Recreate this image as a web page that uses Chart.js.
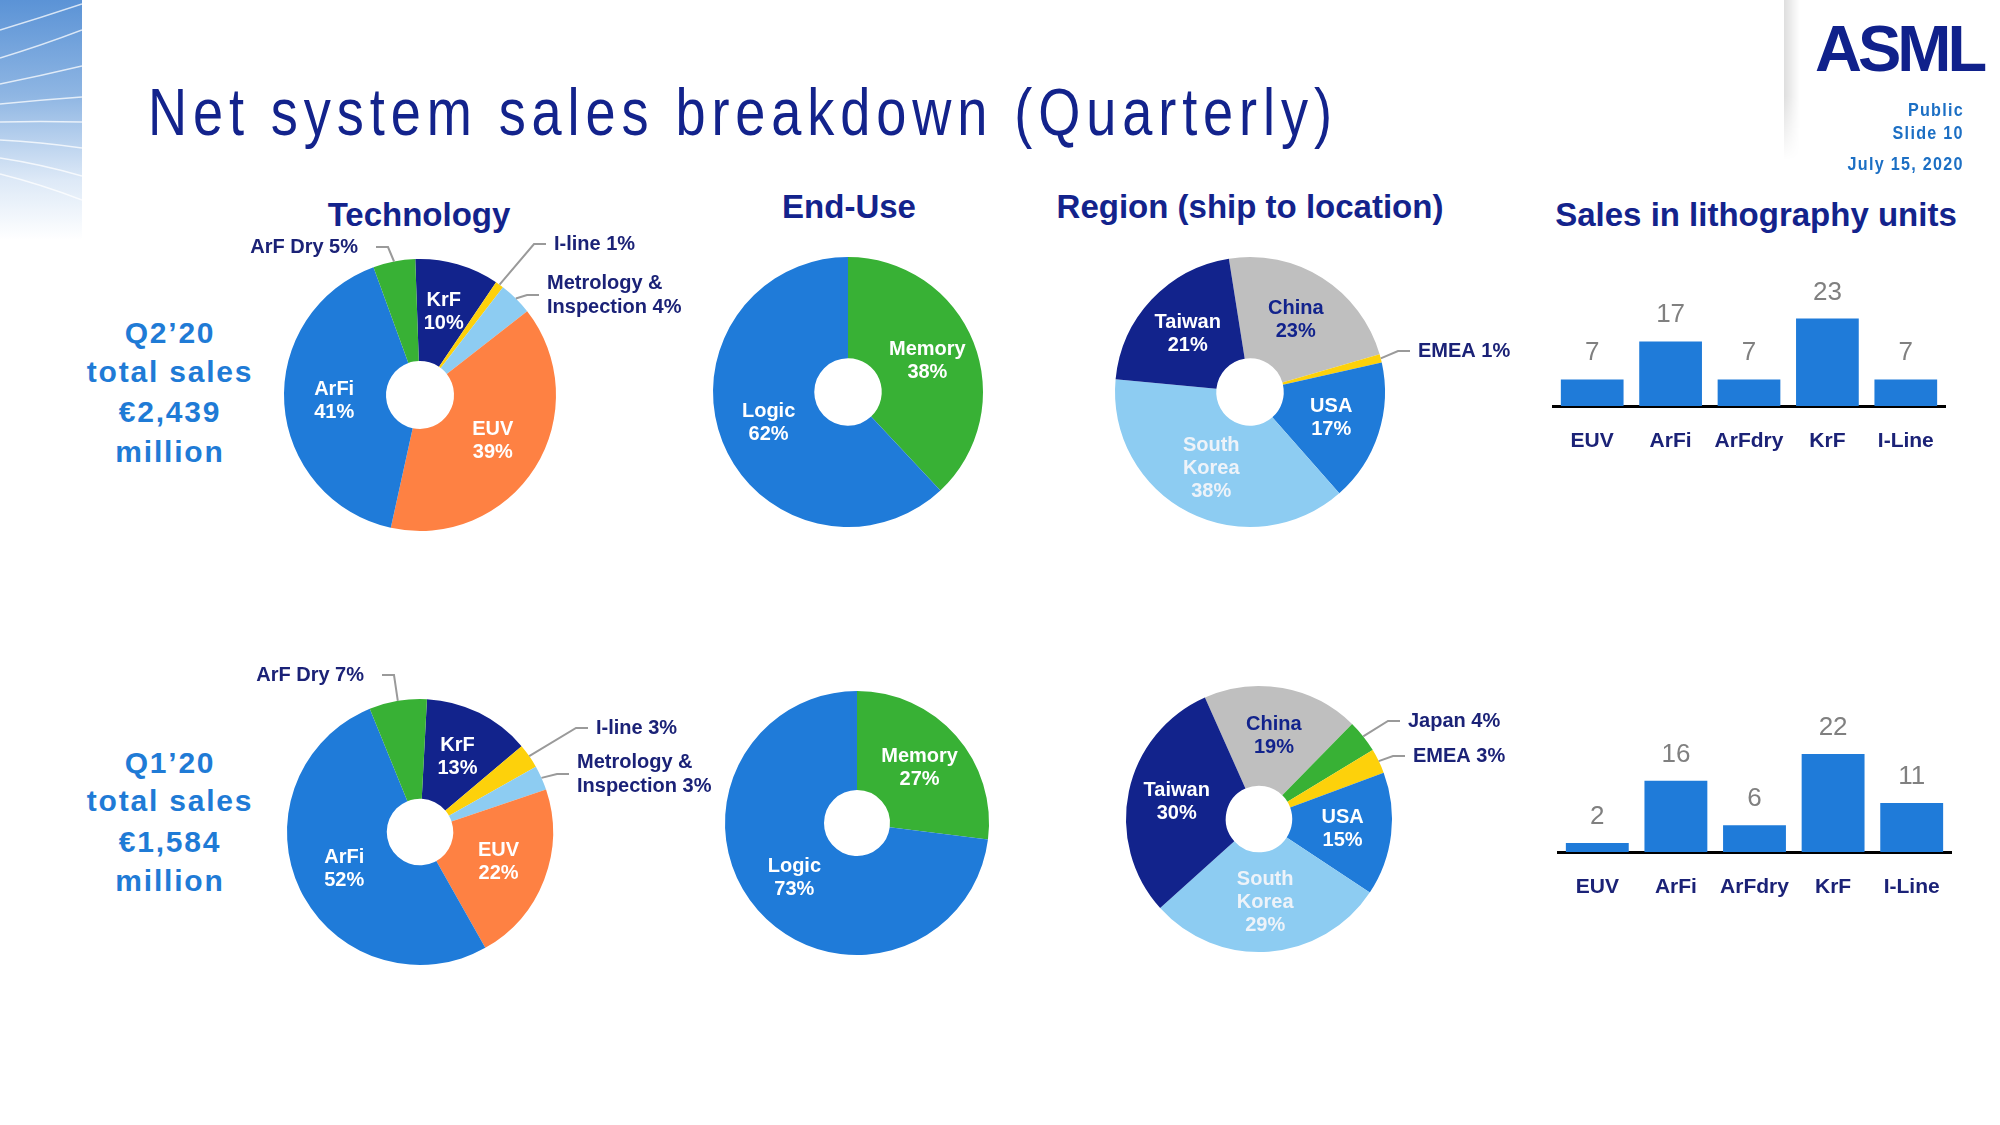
<!DOCTYPE html>
<html lang="en">
<head>
    <meta charset="UTF-8">
    <title>Net system sales breakdown (Quarterly)</title>
    <script src="https://cdn.jsdelivr.net/npm/chart.js@4.4.0/dist/chart.umd.min.js"></script>
    <style>
        html, body {
            margin: 0;
            padding: 0;
            background: #fff;
        }
        body {
            width: 2000px;
            height: 1125px;
            position: relative;
            overflow: hidden;
            font-family: "Liberation Sans", Arial, sans-serif;
        }
        canvas {
            position: absolute;
        }
        .txt {
            position: absolute;
            line-height: 1;
            white-space: nowrap;
        }
        .title {
            left: 148px;
            top: 79px;
            font-size: 66px;
            letter-spacing: 7.2px;
            color: #13238c;
            transform: scaleX(0.82);
            transform-origin: left top;
        }
        .head {
            width: 600px;
            text-align: center;
            font-size: 33px;
            font-weight: bold;
            color: #13238c;
        }
        .total {
            left: 20px;
            width: 300px;
            text-align: center;
            font-size: 30px;
            font-weight: bold;
            letter-spacing: 1.8px;
            color: #1f7bd6;
        }
        .meta {
            right: 36px;
            font-size: 19px;
            font-weight: bold;
            letter-spacing: 1.5px;
            color: #1c6fc4;
            transform: scaleX(0.85);
            transform-origin: right top;
        }
        .logo {
            left: 1815px;
            top: 16px;
            font-size: 65px;
            font-weight: bold;
            letter-spacing: -4px;
            color: #10218b;
        }
        .deco {
            position: absolute;
            left: 0;
            top: 0;
        }
        .shade {
            position: absolute;
            left: 1784px;
            top: 0;
            width: 16px;
            height: 160px;
            background: linear-gradient(to right, rgba(0,0,0,0.13), rgba(0,0,0,0));
            -webkit-mask-image: linear-gradient(to bottom, #000 60%, transparent);
            mask-image: linear-gradient(to bottom, #000 60%, transparent);
        }
    </style>
</head>
<body>

    <svg class="deco" width="82" height="240">
        <defs>
            <linearGradient id="decoFill" x1="0" y1="0" x2="0" y2="1">
                <stop offset="0" stop-color="#5b93d6"/>
                <stop offset="0.4" stop-color="#8fb6e3"/>
                <stop offset="0.75" stop-color="#dde9f7"/>
                <stop offset="1" stop-color="#ffffff"/>
            </linearGradient>
        </defs>
        <rect width="82" height="240" fill="url(#decoFill)"/>
        <g fill="none" stroke="#ffffff" stroke-opacity="0.75" stroke-width="1.5">
            <path d="M0,30 Q40,18 82,4"/>
            <path d="M0,58 Q40,46 82,30"/>
            <path d="M0,84 Q40,76 82,66"/>
            <path d="M0,104 Q40,100 82,97"/>
            <path d="M0,122 Q40,121 82,122"/>
            <path d="M0,140 Q40,142 82,148"/>
            <path d="M0,158 Q40,164 82,176"/>
            <path d="M0,174 Q40,184 82,200"/>
        </g>
    </svg>
    <div class="shade"></div>

    <div class="txt title">Net system sales breakdown (Quarterly)</div>

    <div class="txt logo">ASML</div>
    <div class="txt meta" style="top: 100px;">Public</div>
    <div class="txt meta" style="top: 123px;">Slide 10</div>
    <div class="txt meta" style="top: 154px;">July 15, 2020</div>

    <div class="txt head" style="left: 119px; top: 198px;">Technology</div>
    <div class="txt head" style="left: 549px; top: 190px;">End-Use</div>
    <div class="txt head" style="left: 950px; top: 190px;">Region (ship to location)</div>
    <div class="txt head" style="left: 1456px; top: 198px;">Sales in lithography units</div>

    <div class="txt total" style="top: 318px;">Q2’20</div>
    <div class="txt total" style="top: 357px;">total sales</div>
    <div class="txt total" style="top: 397px;">€2,439</div>
    <div class="txt total" style="top: 437px;">million</div>

    <div class="txt total" style="top: 748px;">Q1’20</div>
    <div class="txt total" style="top: 786px;">total sales</div>
    <div class="txt total" style="top: 827px;">€1,584</div>
    <div class="txt total" style="top: 866px;">million</div>

    <canvas id="techQ2"></canvas>
    <canvas id="endUseQ2"></canvas>
    <canvas id="regionQ2"></canvas>
    <canvas id="unitsQ2"></canvas>
    <canvas id="techQ1"></canvas>
    <canvas id="endUseQ1"></canvas>
    <canvas id="regionQ1"></canvas>
    <canvas id="unitsQ1"></canvas>

    <script>
        // technology split (%)
        var techLabels = ['KrF', 'I-line', 'Metrology &\nInspection', 'EUV', 'ArFi', 'ArF Dry'];
        var techQ2 = [10, 1, 4, 39, 41, 5];
        var techQ1 = [13, 3, 3, 22, 52, 7];

        // end-use split (%)
        var endUseLabels = ['Memory', 'Logic'];
        var endUseQ2 = [38, 62];
        var endUseQ1 = [27, 73];

        // region split (%)
        var regionLabelsQ2 = ['China', 'EMEA', 'USA', 'South\nKorea', 'Taiwan'];
        var regionQ2 = [23, 1, 17, 38, 21];
        var regionLabelsQ1 = ['China', 'Japan', 'EMEA', 'USA', 'South\nKorea', 'Taiwan'];
        var regionQ1 = [19, 4, 3, 15, 29, 30];

        // litho units sold
        var unitCategories = ['EUV', 'ArFi', 'ArFdry', 'KrF', 'I-Line'];
        var unitsQ2 = [7, 17, 7, 23, 7];
        var unitsQ1 = [2, 16, 6, 22, 11];

        var NAVY = '#12238c';
        var BLUE = '#1f7bd9';
        var LIGHT = '#8dccf2';
        var ORANGE = '#fe8143';
        var GREEN = '#38b135';
        var YELLOW = '#fdd10b';
        var GREY = '#bfbfbf';
        var LABEL_NAVY = '#1b2277';
        var FONT = '"Liberation Sans", Arial, sans-serif';

        Chart.defaults.font.family = FONT;

        var techColors = [NAVY, YELLOW, LIGHT, ORANGE, BLUE, GREEN];
        var endUseColors = [GREEN, BLUE];
        var regionColorsQ2 = [GREY, YELLOW, BLUE, LIGHT, NAVY];
        var regionColorsQ1 = [GREY, GREEN, YELLOW, BLUE, LIGHT, NAVY];

        // slice labels: inside ones at the ring centre, outside ones with a leader line
        var pieLabels = {
            id: 'pieLabels',
            afterDatasetsDraw: function (chart, args, opts) {
                var ctx = chart.ctx;
                var meta = chart.getDatasetMeta(0);
                var values = chart.data.datasets[0].data;
                var outside = opts.outside || {};
                var colors = opts.colors || [];
                ctx.save();
                ctx.font = 'bold 20px ' + FONT;
                ctx.textBaseline = 'middle';
                meta.data.forEach(function (arc, i) {
                    var p = arc.getProps(['x', 'y', 'startAngle', 'endAngle', 'innerRadius', 'outerRadius'], true);
                    var mid = (p.startAngle + p.endAngle) / 2;
                    var lines = chart.data.labels[i].split('\n');
                    var pct = values[i] + '%';
                    var o = outside[i];
                    if (o) {
                        lines[lines.length - 1] += ' ' + pct;
                        var tx = p.x + o.dx, ty = p.y + o.dy;
                        var dir = o.align === 'right' ? 1 : -1;
                        var gap = o.gap || 8;
                        var ex = p.x + Math.cos(mid) * p.outerRadius;
                        var ey = p.y + Math.sin(mid) * p.outerRadius;
                        ctx.strokeStyle = '#9a9a9a';
                        ctx.lineWidth = 2;
                        ctx.beginPath();
                        ctx.moveTo(ex, ey);
                        ctx.lineTo(tx + dir * (gap + 12), ty);
                        ctx.lineTo(tx + dir * gap, ty);
                        ctx.stroke();
                        ctx.fillStyle = LABEL_NAVY;
                        ctx.textAlign = o.align;
                        lines.forEach(function (t, k) {
                            ctx.fillText(t, tx, ty + (k - (lines.length - 1) / 2) * 24);
                        });
                    } else {
                        lines.push(pct);
                        var rr = p.innerRadius + (p.outerRadius - p.innerRadius) * 0.51;
                        var lx = p.x + Math.cos(mid) * rr;
                        var ly = p.y + Math.sin(mid) * rr;
                        ctx.fillStyle = colors[i] || '#ffffff';
                        ctx.textAlign = 'center';
                        lines.forEach(function (t, k) {
                            ctx.fillText(t, lx, ly + (k - (lines.length - 1) / 2) * 23);
                        });
                    }
                });
                ctx.restore();
            }
        };

        var barValues = {
            id: 'barValues',
            afterDatasetsDraw: function (chart) {
                var ctx = chart.ctx;
                var meta = chart.getDatasetMeta(0);
                var values = chart.data.datasets[0].data;
                ctx.save();
                ctx.font = '26px ' + FONT;
                ctx.fillStyle = '#808080';
                ctx.textAlign = 'center';
                ctx.textBaseline = 'alphabetic';
                meta.data.forEach(function (bar, i) {
                    ctx.fillText(values[i], bar.x, bar.y - 19);
                });
                ctx.restore();
            }
        };

        function makePie(id, cx, cy, r, labels, values, colors, rotation, outside, textColors) {
            var W = 800, H = 400, L = 360, T = 200;
            var cv = document.getElementById(id);
            cv.width = W;
            cv.height = H;
            cv.style.left = (cx - L) + 'px';
            cv.style.top = (cy - T) + 'px';
            return new Chart(cv, {
                type: 'doughnut',
                data: {
                    labels: labels,
                    datasets: [{ data: values, backgroundColor: colors, borderWidth: 0 }]
                },
                options: {
                    responsive: false,
                    animation: false,
                    rotation: rotation,
                    cutout: '25%',
                    layout: { padding: { left: L - r, right: W - L - r, top: T - r, bottom: H - T - r } },
                    plugins: {
                        legend: { display: false },
                        tooltip: { enabled: false },
                        pieLabels: { outside: outside, colors: textColors }
                    }
                },
                plugins: [pieLabels]
            });
        }

        function makeBars(id, left, top, width, height, pad, values, yMax) {
            var cv = document.getElementById(id);
            cv.width = width;
            cv.height = height;
            cv.style.left = left + 'px';
            cv.style.top = top + 'px';
            return new Chart(cv, {
                type: 'bar',
                data: {
                    labels: unitCategories,
                    datasets: [{
                        data: values,
                        backgroundColor: BLUE,
                        categoryPercentage: 1,
                        barPercentage: 0.8
                    }]
                },
                options: {
                    responsive: false,
                    animation: false,
                    layout: { padding: pad },
                    plugins: { legend: { display: false }, tooltip: { enabled: false } },
                    scales: {
                        x: {
                            grid: { display: false, drawTicks: false },
                            border: { color: '#000000', width: 3 },
                            ticks: { color: LABEL_NAVY, font: { size: 21, weight: 'bold' }, padding: 23 },
                            afterFit: function (s) { s.height = 62; }
                        },
                        y: { display: false, min: 0, max: yMax }
                    }
                },
                plugins: [barValues]
            });
        }

        makePie('techQ2', 420, 395, 136, techLabels, techQ2, techColors, -2, {
            1: { dx: 134, dy: -151, align: 'left' },
            2: { dx: 127, dy: -100, align: 'left' },
            5: { dx: -62, dy: -148, align: 'right', gap: 18 }
        }, []);
        makePie('endUseQ2', 848, 392, 135, endUseLabels, endUseQ2, endUseColors, 0, {}, []);
        makePie('regionQ2', 1250, 392, 135, regionLabelsQ2, regionQ2, regionColorsQ2, -9, {
            1: { dx: 168, dy: -41, align: 'left' }
        }, [NAVY, null, null, '#eef3f9', null]);

        makePie('techQ1', 420, 832, 133, techLabels, techQ1, techColors, 3, {
            1: { dx: 176, dy: -104, align: 'left' },
            2: { dx: 157, dy: -58, align: 'left' },
            5: { dx: -56, dy: -157, align: 'right', gap: 18 }
        }, []);
        makePie('endUseQ1', 857, 823, 132, endUseLabels, endUseQ1, endUseColors, 0, {}, []);
        makePie('regionQ1', 1259, 819, 133, regionLabelsQ1, regionQ1, regionColorsQ1, -24, {
            1: { dx: 149, dy: -98, align: 'left' },
            2: { dx: 154, dy: -63, align: 'left' }
        }, [NAVY, null, null, null, '#eef3f9', null]);

        makeBars('unitsQ2', 1540, 250, 420, 218, { left: 13, right: 15, top: 42, bottom: 0 }, unitsQ2, 30);
        makeBars('unitsQ1', 1545, 680, 420, 234, { left: 13, right: 14, top: 38.5, bottom: 0 }, unitsQ1, 30);
    </script>

</body>
</html>
